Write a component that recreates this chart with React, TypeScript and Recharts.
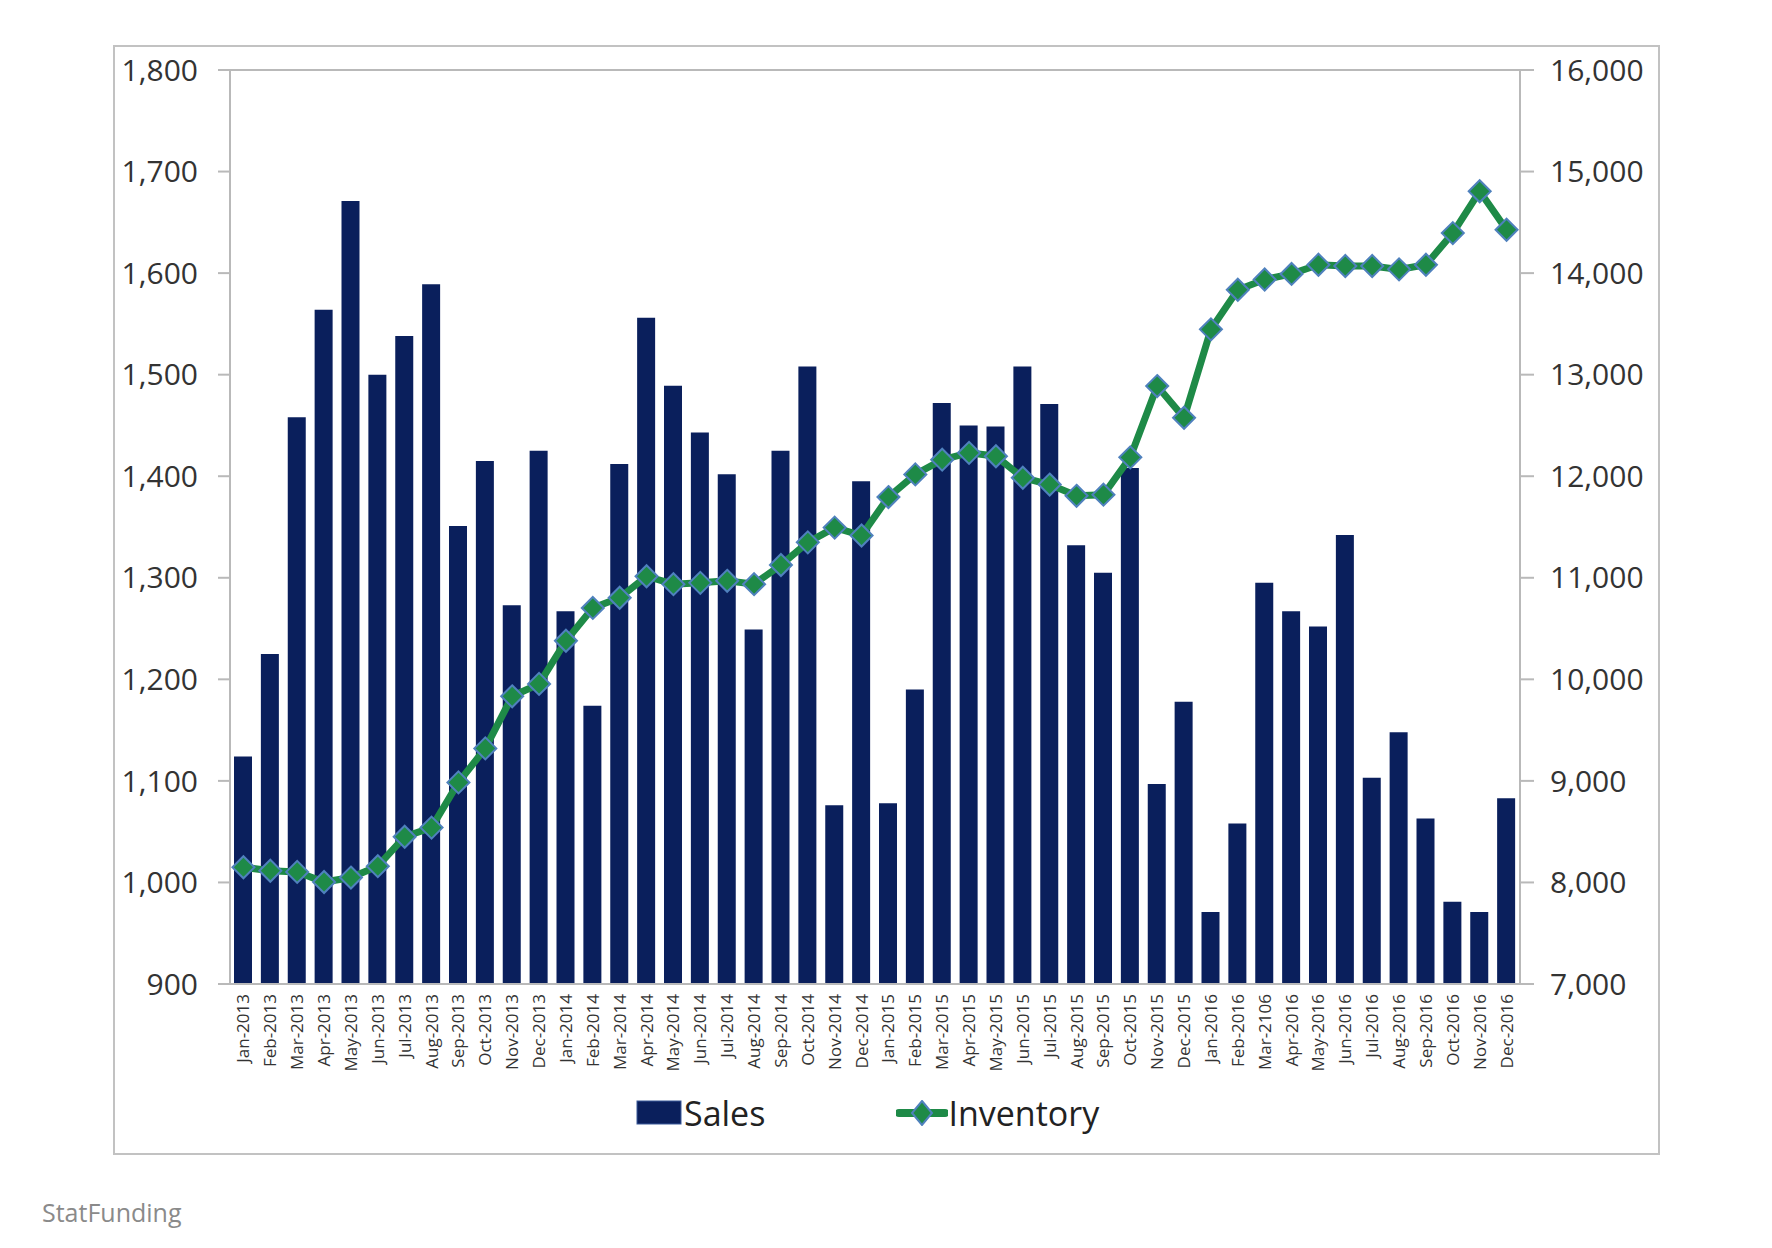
import React from 'react';
import {
  ComposedChart,
  Bar,
  Line,
  XAxis,
  YAxis,
  CartesianGrid,
  Legend,
} from 'recharts';

const months = [
  'Jan-2013', 'Feb-2013', 'Mar-2013', 'Apr-2013', 'May-2013', 'Jun-2013',
  'Jul-2013', 'Aug-2013', 'Sep-2013', 'Oct-2013', 'Nov-2013', 'Dec-2013',
  'Jan-2014', 'Feb-2014', 'Mar-2014', 'Apr-2014', 'May-2014', 'Jun-2014',
  'Jul-2014', 'Aug-2014', 'Sep-2014', 'Oct-2014', 'Nov-2014', 'Dec-2014',
  'Jan-2015', 'Feb-2015', 'Mar-2015', 'Apr-2015', 'May-2015', 'Jun-2015',
  'Jul-2015', 'Aug-2015', 'Sep-2015', 'Oct-2015', 'Nov-2015', 'Dec-2015',
  'Jan-2016', 'Feb-2016', 'Mar-2106', 'Apr-2016', 'May-2016', 'Jun-2016',
  'Jul-2016', 'Aug-2016', 'Sep-2016', 'Oct-2016', 'Nov-2016', 'Dec-2016',
];

const sales = [
  1124, 1225, 1458, 1564, 1671, 1500, 1538, 1589, 1351, 1415, 1273, 1425,
  1267, 1174, 1412, 1556, 1489, 1443, 1402, 1249, 1425, 1508, 1076, 1395,
  1078, 1190, 1472, 1450, 1449, 1508, 1471, 1332, 1305, 1408, 1097, 1178,
  971, 1058, 1295, 1267, 1252, 1342, 1103, 1148, 1063, 981, 971, 1083,
];

const inventory = [
  8150, 8115, 8104, 8004, 8048, 8160, 8450, 8540, 8985, 9320, 9833, 9955,
  10380, 10703, 10803, 11015, 10937, 10950, 10970, 10937, 11126, 11349, 11494, 11416,
  11795, 12018, 12163, 12230, 12197, 11985, 11918, 11807, 11818, 12186, 12888, 12576,
  13446, 13836, 13937, 13992, 14082, 14070, 14070, 14037, 14082, 14394, 14806, 14427,
];

const salesTicks = [900, 1000, 1100, 1200, 1300, 1400, 1500, 1600, 1700, 1800];
const inventoryTicks = [7000, 8000, 9000, 10000, 11000, 12000, 13000, 14000, 15000, 16000];

const data = months.map((m, i) => ({ month: m, Sales: sales[i], Inventory: inventory[i] }));

const FONT = '"Open Sans", "DejaVu Sans", sans-serif';
const NAVY = '#0a1f5c';
const GREEN = '#1e8a47';
const BLUE = '#4f81bd';
const GRID = '#b9b9b9';

const fmt = (v: number) => v.toLocaleString('en-US');

const MonthTick = (props: any) => {
  const { x, y, payload } = props;
  return (
    <text
      x={x}
      y={y}
      transform={`rotate(-90, ${x}, ${y})`}
      textAnchor="end"
      dy="0.35em"
      fontSize={17}
      fontFamily={FONT}
      fill="#333"
    >
      {payload.value}
    </text>
  );
};

const Diamond = (props: any) => {
  const { cx, cy } = props;
  if (cx == null || cy == null) return null;
  const r = 11;
  return (
    <polygon
      points={`${cx},${cy - r} ${cx + r},${cy} ${cx},${cy + r} ${cx - r},${cy}`}
      fill={GREEN}
      stroke={BLUE}
      strokeWidth={2}
    />
  );
};

const renderLegend = () => (
  <div style={{ display: 'flex', alignItems: 'center', fontFamily: FONT, fontSize: 34, color: '#222' }}>
    <div style={{ display: 'flex', alignItems: 'center' }}>
      <svg width={46} height={26} style={{ marginRight: 2 }}>
        <rect x={1} y={1} width={44} height={23} fill={NAVY} stroke="#3a5a9a" strokeWidth={1} />
      </svg>
      <span>Sales</span>
    </div>
    <div style={{ display: 'flex', alignItems: 'center', marginLeft: 131 }}>
      <svg width={52} height={26} style={{ marginRight: 0 }}>
        <line x1={3} y1={13} x2={49} y2={13} stroke={GREEN} strokeWidth={8} strokeLinecap="round" />
        <polygon points="26,1 36,13 26,25 16,13" fill={GREEN} stroke={BLUE} strokeWidth={2} />
      </svg>
      <span>Inventory</span>
    </div>
  </div>
);

export default function App() {
  return (
    <div style={{ position: 'absolute', left: 0, top: 0, width: 1772, height: 1248, background: '#fff' }}>
      <div
        style={{
          position: 'absolute',
          left: 113,
          top: 45,
          width: 1547,
          height: 1110,
          border: '2px solid #c2c2c2',
          boxSizing: 'border-box',
        }}
      />
      <div style={{ position: 'absolute', left: 0, top: 0 }}>
        <ComposedChart
          width={1772}
          height={1248}
          data={data}
          barCategoryGap={0}
          margin={{ top: 70, left: 150, right: 152, bottom: 164 }}
        >
          <CartesianGrid horizontal vertical={false} stroke={GRID} strokeWidth={2} />
          <XAxis
            dataKey="month"
            interval={0}
            height={100}
            tickLine={false}
            tickSize={0}
            tickMargin={10}
            axisLine={{ stroke: GRID, strokeWidth: 2 }}
            tick={<MonthTick />}
          />
          <YAxis
            yAxisId="left"
            orientation="left"
            width={80}
            domain={[900, 1800]}
            ticks={salesTicks}
            allowDataOverflow
            tickFormatter={fmt}
            tickSize={12}
            tickMargin={20}
            tickLine={{ stroke: GRID, strokeWidth: 2 }}
            axisLine={{ stroke: GRID, strokeWidth: 2 }}
            tick={{ fontSize: 30, fontFamily: FONT, fill: '#333' }}
          />
          <YAxis
            yAxisId="right"
            orientation="right"
            width={100}
            domain={[7000, 16000]}
            ticks={inventoryTicks}
            allowDataOverflow
            tickFormatter={fmt}
            tickSize={14}
            tickMargin={16}
            tickLine={{ stroke: GRID, strokeWidth: 2 }}
            axisLine={{ stroke: GRID, strokeWidth: 2 }}
            tick={{ fontSize: 30, fontFamily: FONT, fill: '#333', textAnchor: 'start' }}
          />
          <Legend
            layout="horizontal"
            verticalAlign="middle"
            align="center"
            wrapperStyle={{ top: 1090, left: 636, width: 'auto' }}
            content={renderLegend}
          />
          <Bar yAxisId="left" dataKey="Sales" fill={NAVY} barSize={18} isAnimationActive={false} />
          <Line
            yAxisId="right"
            type="linear"
            dataKey="Inventory"
            stroke={GREEN}
            strokeWidth={7}
            dot={<Diamond />}
            activeDot={false}
            isAnimationActive={false}
          />
        </ComposedChart>
      </div>
      <div
        style={{
          position: 'absolute',
          left: 42,
          top: 1195,
          fontFamily: FONT,
          fontSize: 25,
          color: '#8a8a8a',
        }}
      >
        StatFunding
      </div>
    </div>
  );
}
